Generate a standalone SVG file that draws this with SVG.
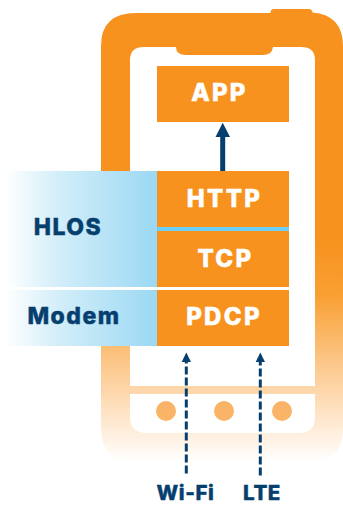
<svg xmlns="http://www.w3.org/2000/svg" width="343" height="508" viewBox="0 0 343 508">
<style>
.box{fill:#f7921e}
.w{font:800 24px Inter,"Liberation Sans",sans-serif;fill:#fff;stroke:#fff;stroke-width:.5px;text-anchor:middle;letter-spacing:2.300px}
.n{font:800 23px Inter,"Liberation Sans",sans-serif;fill:#063f6e;stroke:#063f6e;stroke-width:.4px;text-anchor:middle;letter-spacing:1.500px}
.d{fill:none;stroke:#063f6e;stroke-width:3;stroke-dasharray:8 3}
.s{font-size:20.500px;letter-spacing:.6px}
</style>
<defs>
<linearGradient id="ph" gradientUnits="userSpaceOnUse" x1="0" y1="13" x2="0" y2="462"><stop offset="0" stop-color="#f7921e"/><stop offset=".5" stop-color="#f7921e"/><stop offset=".63" stop-color="#f9a033"/><stop offset=".78" stop-color="#fcc78a"/><stop offset="1" stop-color="#fff"/></linearGradient>
<linearGradient id="bl"><stop offset="0" stop-color="#fff"/><stop offset=".35" stop-color="#d3eef9"/><stop offset="1" stop-color="#9bd8f3"/></linearGradient>
</defs>
<g id="phone">
<path fill="url(#ph)" fill-rule="evenodd" d="M136 13H270.500V12Q271 9 274 9H309Q312 9 312.500 12.500Q343 15 343 46V428Q343 462 309 462H135Q101 462 101 428V46Q101 13 136 13ZM144 47Q130 47 130 60V386H315V60Q315 47 301 47H273Q272 55 263 55H186Q176 55 176 47ZM130 394V418Q131 433 146 433H300Q315 432 315 418V394Z"/>
<circle cx="166" cy="411" r="10" fill="#f9b467"/><circle cx="224" cy="411" r="10" fill="#f9b467"/><circle cx="282" cy="411" r="10" fill="#f9b467"/>
</g>
<g id="hlos-band"><rect x="5" y="171" width="152" height="116" fill="url(#bl)"/><text class="n" x="68" y="235">HLOS</text></g>
<g id="modem-band"><rect x="5" y="290" width="152" height="56" fill="url(#bl)"/><text class="n" x="74" y="323.500">Modem</text></g>
<rect x="157" y="227" width="132" height="4" fill="#6dcff6"/>
<rect x="0" y="287" width="289" height="3" fill="#fff"/>
<g id="app"><rect class="box" x="157" y="66" width="132" height="56"/><text class="w" x="219.500" y="101">APP</text></g>
<g id="http"><rect class="box" x="157" y="171" width="132" height="56"/><text class="w" x="224.500" y="206.500">HTTP</text></g>
<g id="tcp"><rect class="box" x="157" y="231" width="132" height="56"/><text class="w" x="225.500" y="266.500">TCP</text></g>
<g id="pdcp"><rect class="box" x="157" y="290" width="132" height="56"/><text class="w" x="224" y="325">PDCP</text></g>
<g id="connectors">
<path d="M220.200 171V137H215.500L222.700 122.700L230 137H225.200V171Z" fill="#063f6e"/>
<path class="d" d="M186.300 473.500V361"/><path d="M186.300 352.500L191 362H181.700Z" fill="#063f6e"/>
<path class="d" d="M260.300 475.500V361"/><path d="M260.300 352.500L265 362H255.700Z" fill="#063f6e"/>
</g>
<text class="n s" x="185.500" y="499.500">Wi-Fi</text>
<text class="n s" x="262" y="499.500">LTE</text>
</svg>
